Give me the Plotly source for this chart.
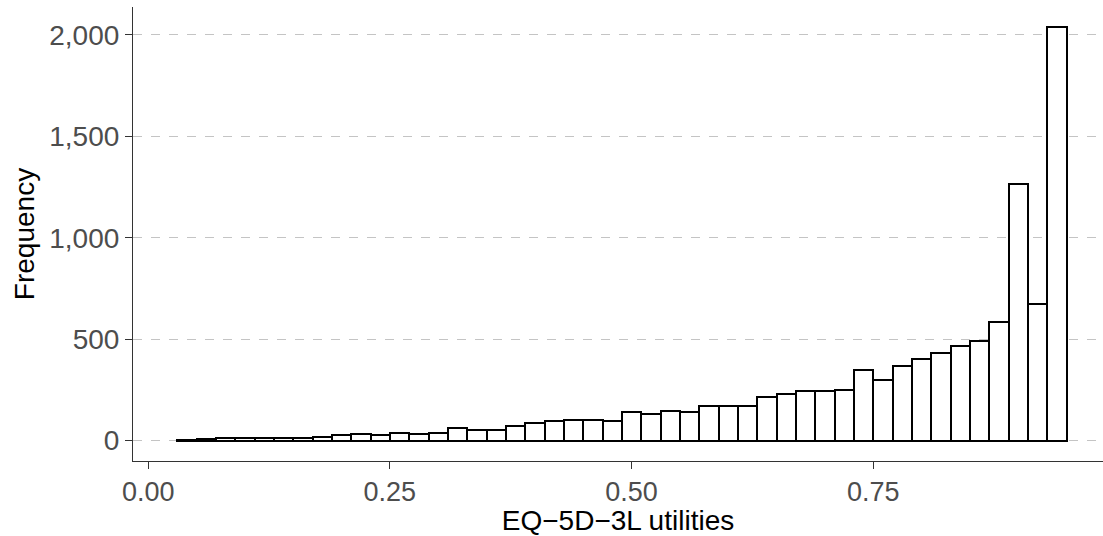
import plotly.graph_objects as go

# Histogram bins (width 0.02), centres and counts
bin_centers = [round(0.04 + 0.02 * i, 2) for i in range(46)]
counts = [3, 6, 11, 11, 13, 14, 10, 17, 27, 33,
          28, 36, 34, 36, 64, 54, 54, 73, 85, 94,
          103, 103, 97, 140, 129, 144, 141, 169, 172, 168,
          215, 230, 243, 242, 251, 346, 297, 369, 402, 432,
          465, 493, 585, 1264, 673, 2038]
bin_width = 0.02

x_tickvals = [0, 0.25, 0.5, 0.75]
x_ticktext = ["0.00", "0.25", "0.50", "0.75"]
y_tickvals = [0, 500, 1000, 1500, 2000]

FONT = "Liberation Sans, Arial, Helvetica, sans-serif"

fig = go.Figure(go.Bar(
    x=bin_centers, y=counts, width=bin_width,
    marker=dict(color="white", line=dict(color="black", width=2)),
))

fig.update_layout(
    width=1103, height=536,
    margin=dict(l=133, r=0, t=7, b=75),
    plot_bgcolor="white", paper_bgcolor="white",
    showlegend=False, bargap=0,
    font=dict(family=FONT, size=28, color="black"),
)
fig.update_xaxes(
    range=[-0.0157, 0.9877], tickvals=x_tickvals, ticktext=x_ticktext,
    showgrid=False, zeroline=False,
    showline=True, linecolor="#333333", linewidth=1.1,
    ticks="outside", ticklen=7, tickcolor="#333333", tickwidth=1.1,
    tickfont=dict(family=FONT, size=27, color="#4D4D4D"),
    ticklabelstandoff=0,
    title=dict(text="EQ\u22125D\u22123L utilities", font=dict(family=FONT, size=28, color="black"), standoff=6),
)
fig.update_yaxes(
    range=[-101, 2138], tickvals=y_tickvals, tickformat=",",
    showgrid=True, gridcolor="#C4C4C4", gridwidth=1, griddash="dash",
    zeroline=False,
    showline=True, linecolor="#333333", linewidth=1.1,
    ticks="outside", ticklen=7, tickcolor="#333333", tickwidth=1.1,
    tickfont=dict(family=FONT, size=28, color="#4D4D4D"),
    title=dict(text="Frequency", font=dict(family=FONT, size=28, color="black"), standoff=6),
)

fig.write_html("out.html")
